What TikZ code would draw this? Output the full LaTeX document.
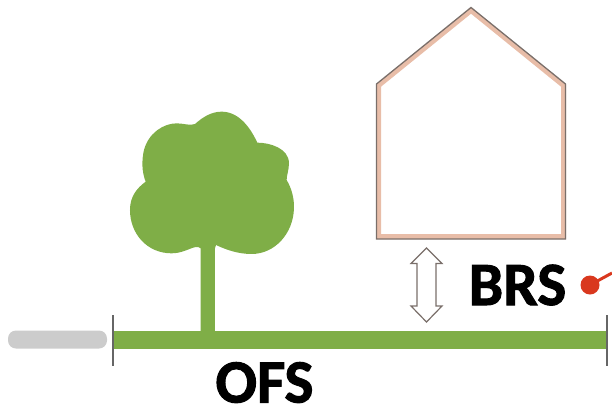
\documentclass[tikz,border=0pt]{standalone}
\usepackage{fontspec}
\setmainfont{Carlito}[BoldFeatures={FakeBold=1.6}]
\definecolor{leaf}{HTML}{7FAE47}
\definecolor{pathgrey}{HTML}{CCCCCC}
\definecolor{peach}{HTML}{E8BDA8}
\definecolor{edge}{HTML}{7A6F6A}
\definecolor{pinred}{HTML}{D9381E}
\tikzset{
  label text/.style={font=\bfseries\fontsize{61.5}{61.5}\selectfont,text=black,inner sep=0pt,anchor=base},
  tick/.style={draw=black!60,line width=1.1pt},
  houseshape/.style={line join=miter}
}
\begin{document}
\begin{tikzpicture}[x=1pt,y=-1pt]
\useasboundingbox (0,0) rectangle (612,408);
% house
\draw[houseshape,peach,line width=5pt] (378.5,85.5) -- (471,10.5) -- (563.5,85.5) -- (563.5,236.5) -- (378.5,236.5) -- cycle;
\draw[houseshape,edge,line width=1.3pt] (376.5,84) -- (471,7.5) -- (565.5,84) -- (565.5,239) -- (376.5,239) -- cycle;
% ground
\fill[pathgrey,rounded corners=8pt] (107,330.5) -- (8,330.5) -- (8,348.5) -- (107,348.5) -- cycle;
\fill[leaf] (114,330.5) rectangle (607,348.5);
% tree
\fill[leaf,shift={(0,100)},x=0.3333pt,y=-0.3333pt]
  (602,640) -- (602,445)
  .. controls (585,430) and (560,460) .. (515,460)
  .. controls (440,460) and (390,400) .. (390,330)
  .. controls (390,290) and (410,265) .. (437,245)
  .. controls (425,215) and (425,180) .. (432,150)
  .. controls (445,100) and (490,70) .. (530,70)
  .. controls (550,70) and (570,78) .. (585,72)
  .. controls (610,50) and (635,35) .. (665,35)
  .. controls (715,35) and (750,80) .. (772,128)
  .. controls (810,128) and (867,145) .. (867,190)
  .. controls (867,210) and (860,225) .. (860,240)
  .. controls (875,265) and (883,295) .. (882,325)
  .. controls (880,400) and (825,462) .. (755,462)
  .. controls (715,462) and (680,450) .. (648,435)
  -- (645,445) -- (645,700) -- (602,700) -- cycle;
% ticks
\draw[tick] (113,315) -- (113,366);
\draw[tick] (607,315) -- (607,366);
% double arrow
\draw[edge,line width=1.2pt,fill=white,line join=miter]
  (426.5,248) -- (442,263.5) -- (436,263.5) -- (436,306) -- (442,306) -- (426.5,322)
  -- (411,306) -- (417,306) -- (417,263.5) -- (411,263.5) -- cycle;
% labels
\node[label text] (brs) at (517.5,305) {BRS};
\node[label text] (ofs) at (264.5,402.5) {OFS};
% pin
\node[circle,fill=pinred,inner sep=0pt,minimum size=19pt] (dot) at (590,285) {};
\coordinate (pinend) at (612,273);
\draw[pinred,line width=3pt] (dot.center) -- (pinend);
\end{tikzpicture}
\end{document}
